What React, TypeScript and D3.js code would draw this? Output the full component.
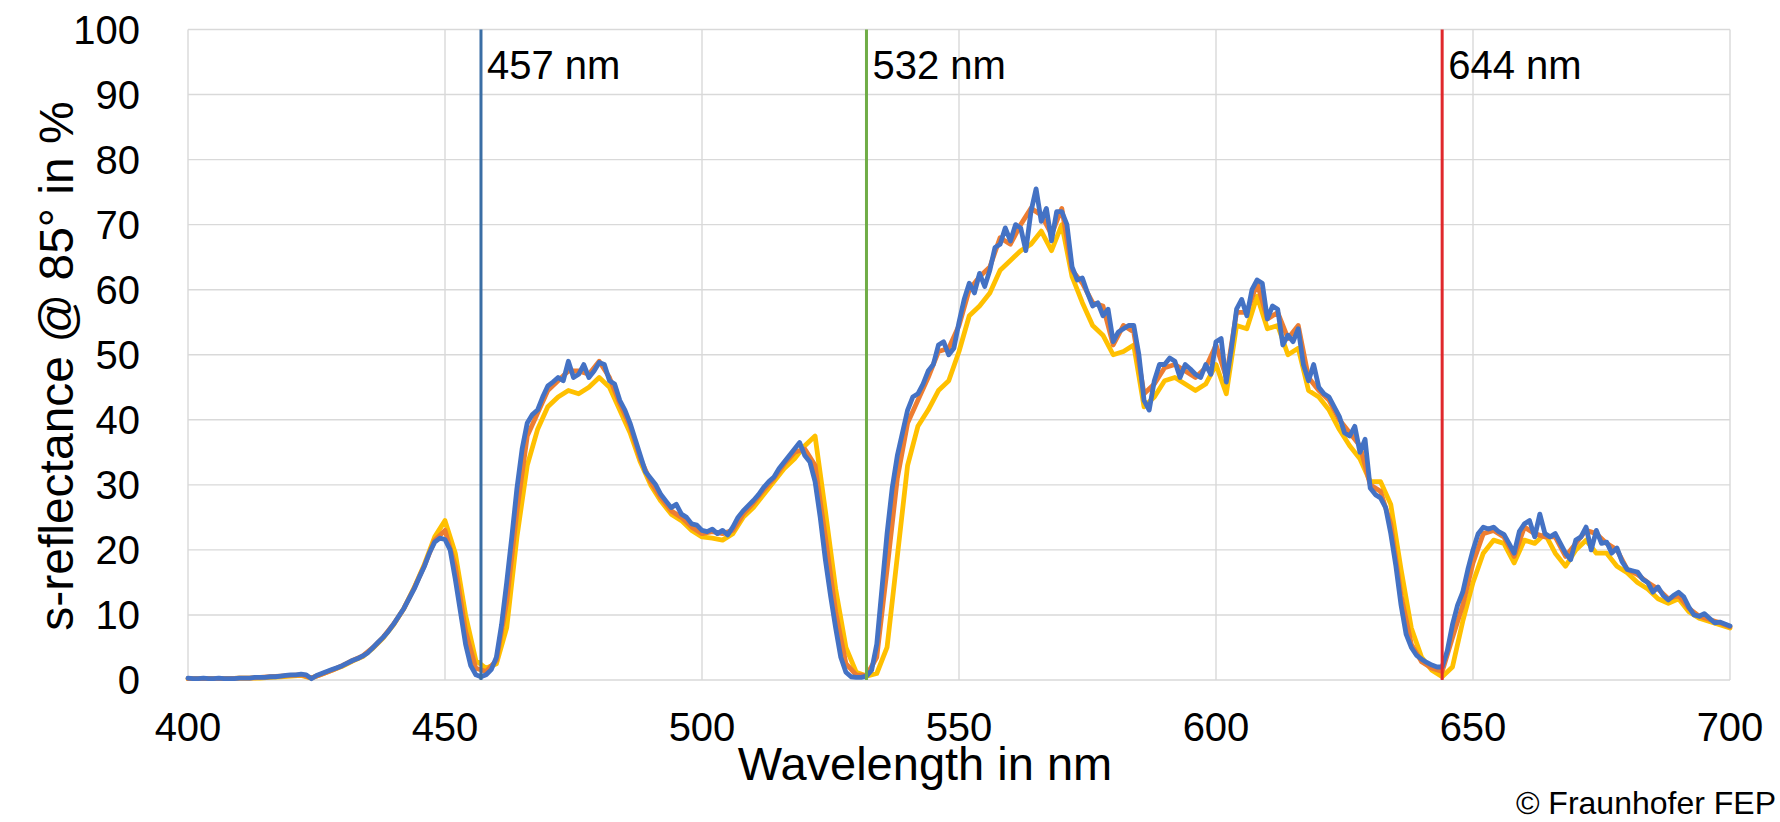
import React from "react";
import * as d3 from "d3";

// ---- data ----
const X_START = 400;
const X_END = 700;
const X_TICKS = [400, 450, 500, 550, 600, 650, 700];
const Y_TICKS = [0, 10, 20, 30, 40, 50, 60, 70, 80, 90, 100];

// blue sample, 1 nm steps from 400 to 700
const BLUE_STEP = 1;
const BLUE = [
  0.3, 0.2, 0.2, 0.3, 0.2, 0.2, 0.3, 0.2, 0.2, 0.2,
  0.3, 0.3, 0.3, 0.4, 0.4, 0.4, 0.5, 0.5, 0.6, 0.7,
  0.8, 0.8, 0.9, 0.8, 0.2, 0.7, 1.0, 1.3, 1.6, 1.9,
  2.2, 2.6, 3.0, 3.3, 3.7, 4.2, 5.0, 5.8, 6.6, 7.5,
  8.6, 9.8, 11.0, 12.5, 14.0, 15.8, 17.5, 19.6, 21.2, 21.8,
  21.6, 20.0, 15.5, 10.5, 5.5, 2.2, 0.8, 0.5, 0.8, 1.6,
  3.5, 8.5, 15.0, 22.0, 29.5, 35.5, 39.5, 40.8, 41.5, 43.5,
  45.2, 45.8, 46.5, 46.0, 49.0, 46.5, 47.0, 48.5, 46.5, 47.5,
  48.8, 48.5, 46.0, 45.5, 43.0, 41.5, 39.5, 37.0, 34.5, 32.0,
  31.0, 30.0, 28.5, 27.5, 26.5, 27.0, 25.5, 25.0, 24.0, 23.8,
  23.0, 22.8, 23.2, 22.5, 23.0, 22.3, 23.5, 25.0, 26.0, 26.8,
  27.6, 28.5, 29.6, 30.5, 31.2, 32.5, 33.5, 34.5, 35.5, 36.5,
  34.5, 33.5, 30.5, 25.0, 18.5, 13.0, 8.0, 3.5, 1.2, 0.5,
  0.4, 0.4, 0.6, 1.5, 5.5, 14.0, 22.5, 29.5, 34.5, 38.0,
  41.5, 43.5, 44.0, 45.5, 47.5, 48.5, 51.5, 52.0, 50.0, 51.0,
  55.0, 58.5, 61.0, 59.5, 62.5, 60.5, 63.0, 66.5, 67.0, 69.5,
  67.5, 70.0, 69.5, 66.0, 72.0, 75.5, 70.5, 72.5, 67.5, 72.0,
  72.0, 70.0, 63.5, 61.5, 61.8, 59.5, 57.5, 58.0, 56.0, 57.0,
  52.0, 53.5, 54.0, 54.5, 54.5, 50.0, 43.0, 41.5, 46.0, 48.5,
  48.5, 49.5, 49.0, 46.5, 48.5, 47.8, 47.0, 46.5, 48.5, 47.0,
  52.0, 52.5, 45.8, 51.0, 57.0, 58.5, 56.0, 60.0, 61.5, 61.0,
  55.5, 57.5, 57.0, 51.5, 53.0, 52.0, 54.0, 48.5, 46.0, 48.5,
  45.0, 44.0, 43.5, 42.0, 40.5, 38.0, 37.5, 39.0, 35.0, 37.0,
  29.5, 28.5, 28.0, 26.5, 22.5, 17.5, 11.5, 7.0, 5.0, 3.8,
  3.2, 2.7, 2.3, 2.0, 2.0, 4.5, 8.5, 11.5, 13.5, 17.0,
  20.0, 22.5, 23.5, 23.2, 23.5, 22.8, 22.4, 21.0, 19.5, 22.8,
  24.0, 24.5, 22.0, 25.5, 22.5, 22.0, 22.5, 21.0, 19.5, 18.5,
  21.5, 22.0, 23.5, 20.0, 23.0, 21.0, 21.2, 19.5, 20.3, 18.2,
  17.0, 16.8, 16.6, 15.5, 15.0, 13.5, 14.3, 13.0, 12.3, 13.0,
  13.5, 12.8, 11.2, 10.0, 9.8, 10.2, 9.5, 8.8, 8.9, 8.6,
  8.3,
];

// yellow sample, 2 nm steps from 400 to 700
const YELLOW_STEP = 2;
const YELLOW = [
  0.2, 0.2, 0.2, 0.2, 0.2, 0.3, 0.3, 0.3, 0.4, 0.5,
  0.6, 0.7, 0.3, 0.9, 1.5, 2.1, 2.9, 3.6, 4.9, 6.5,
  8.5, 11.0, 14.2, 17.8, 22.0, 24.5, 19.5, 10.0, 3.0, 1.8,
  2.5, 8.0, 22.0, 33.0, 38.5, 42.0, 43.5, 44.5, 44.0, 45.0,
  46.5, 45.0, 41.5, 38.0, 33.5, 30.0, 27.5, 25.5, 24.5, 23.0,
  22.0, 21.8, 21.5, 22.5, 25.0, 26.5, 28.5, 30.5, 32.5, 34.0,
  36.0, 37.5, 26.0, 14.0, 5.0, 1.2, 0.6, 1.0, 5.0, 19.0,
  33.0, 39.0, 41.5, 44.5, 46.0, 50.5, 56.0, 57.5, 59.5, 63.0,
  64.5, 66.0, 67.0, 69.0, 66.0, 70.0, 62.0, 58.0, 54.5, 53.0,
  50.0, 50.5, 51.5, 42.0, 43.5, 46.0, 46.5, 45.5, 44.5, 45.5,
  48.5, 44.0, 54.5, 54.0, 59.0, 54.0, 54.5, 50.0, 51.0, 44.5,
  43.5, 41.5, 38.5, 36.0, 34.0, 30.5, 30.5, 27.0, 17.0, 8.0,
  3.5, 1.5, 0.5, 2.0, 9.0, 15.0, 19.5, 21.5, 21.0, 18.0,
  21.5, 21.0, 22.5, 19.5, 17.5, 20.0, 21.5, 19.5, 19.5, 17.5,
  16.5, 15.0, 14.0, 12.5, 11.8, 12.5, 10.5, 9.5, 9.0, 8.5,
  8.0,
];

// orange sample, 2 nm steps from 400 to 700
const ORANGE_STEP = 2;
const ORANGE = [
  0.2, 0.2, 0.2, 0.2, 0.2, 0.3, 0.3, 0.4, 0.5, 0.6,
  0.7, 0.8, 0.3, 0.9, 1.5, 2.2, 3.0, 3.7, 5.0, 6.6,
  8.6, 11.0, 14.1, 17.6, 21.5, 23.0, 17.5, 7.5, 1.8, 1.3,
  3.0, 12.0, 26.0, 37.5, 41.0, 44.5, 46.0, 47.5, 47.5, 47.0,
  49.0, 46.5, 42.5, 39.0, 34.0, 30.5, 28.0, 26.0, 25.0, 23.5,
  22.5, 22.8, 22.5, 23.0, 25.5, 27.2, 29.2, 31.0, 33.2, 35.0,
  35.5, 33.0, 22.0, 10.5, 2.5, 0.8, 0.7, 3.5, 17.0, 31.0,
  39.5, 43.0, 46.5, 50.5, 51.0, 54.5, 60.0, 62.0, 63.5, 68.0,
  67.0, 70.0, 72.5, 71.5, 68.5, 72.5, 63.0, 61.0, 58.0, 57.5,
  51.5, 54.5, 53.5, 44.0, 45.5, 48.0, 48.5, 47.5, 46.5, 48.0,
  51.5, 46.5, 56.5, 56.5, 61.0, 55.5, 56.5, 52.5, 54.5, 46.5,
  44.5, 43.0, 40.0, 38.0, 36.0, 30.0, 29.0, 24.0, 13.0, 5.5,
  2.8, 1.8, 1.3, 6.5, 11.5, 18.0, 22.5, 23.0, 22.0, 19.0,
  23.5, 22.5, 22.0, 22.0, 19.0, 21.0, 23.0, 22.5, 21.0, 20.0,
  17.0, 16.2, 15.0, 14.0, 12.5, 13.0, 11.0, 9.8, 9.3, 8.8,
  8.2,
];

const MARKERS = [457, 532, 644];
const MARKER_LABELS = ["457 nm", "532 nm", "644 nm"];
const MARKER_COLORS = ["#3a6ea5", "#70ad47", "#e0282c"];

const SERIES = [
  { name: "yellow", values: YELLOW, step: YELLOW_STEP, color: "#ffc000" },
  { name: "orange", values: ORANGE, step: ORANGE_STEP, color: "#ed7d31" },
  { name: "blue", values: BLUE, step: BLUE_STEP, color: "#4472c4" },
];

const W = 1780;
const H = 822;
const M = { left: 188, right: 1730, top: 29.5, bottom: 680 };
const FONT = "'Liberation Sans', Arial, Helvetica, sans-serif";

export default function App() {
  const x = d3.scaleLinear().domain([X_START, X_END]).range([M.left, M.right]);
  const y = d3.scaleLinear().domain([0, 100]).range([M.bottom, M.top]);

  const lineFor = (values: number[], step: number) =>
    d3
      .line<number>()
      .x((_, i) => x(X_START + i * step))
      .y((d) => y(d))(values) || "";

  return (
    <svg
      width={W}
      height={H}
      style={{ position: "absolute", left: 0, top: 0, display: "block", background: "#fff" }}
      fontFamily={FONT}
    >
      {/* grid */}
      {Y_TICKS.map((t) => (
        <line key={"gy" + t} x1={M.left} x2={M.right} y1={y(t)} y2={y(t)} stroke="#d9d9d9" strokeWidth={1.4} />
      ))}
      {X_TICKS.map((t) => (
        <line key={"gx" + t} x1={x(t)} x2={x(t)} y1={M.top} y2={M.bottom} stroke="#d9d9d9" strokeWidth={1.4} />
      ))}

      {/* y tick labels */}
      {Y_TICKS.map((t) => (
        <text key={"ty" + t} x={140} y={y(t)} dy="0.36em" textAnchor="end" fontSize={40} fill="#000">
          {t}
        </text>
      ))}
      {/* x tick labels */}
      {X_TICKS.map((t) => (
        <text key={"tx" + t} x={x(t)} y={741} textAnchor="middle" fontSize={40} fill="#000">
          {t}
        </text>
      ))}

      {/* series */}
      {SERIES.map((s) => (
        <path
          key={s.name}
          d={lineFor(s.values, s.step)}
          fill="none"
          stroke={s.color}
          strokeWidth={4.8}
          strokeLinejoin="round"
          strokeLinecap="round"
        />
      ))}

      {/* marker lines */}
      {MARKERS.map((m, i) => (
        <g key={"m" + m}>
          <line x1={x(m)} x2={x(m)} y1={y(100)} y2={y(0)} stroke={MARKER_COLORS[i]} strokeWidth={3} />
          <text x={x(m) + 6} y={79} fontSize={40} fill="#000">
            {MARKER_LABELS[i]}
          </text>
        </g>
      ))}

      {/* axis titles */}
      <text x={925} y={780} textAnchor="middle" fontSize={47} fill="#000">
        Wavelength in nm
      </text>
      <text
        transform={`translate(73, 366) rotate(-90)`}
        textAnchor="middle"
        fontSize={48}
        fill="#000"
      >
        s-reflectance @ 85° in %
      </text>

      {/* credit */}
      <text x={1776} y={814} textAnchor="end" fontSize={32} fill="#000">
        © Fraunhofer FEP
      </text>
    </svg>
  );
}
